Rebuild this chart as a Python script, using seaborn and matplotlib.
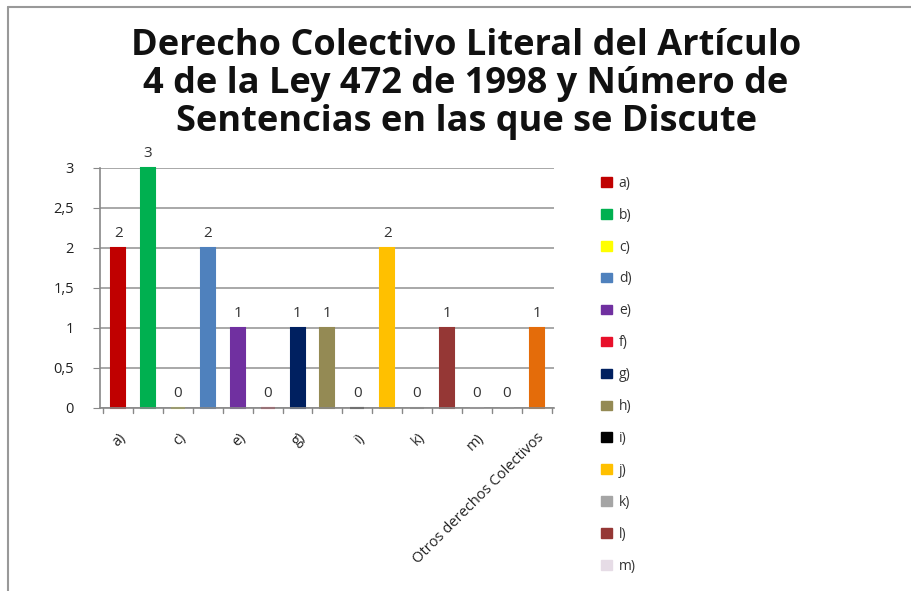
import matplotlib
matplotlib.use("Agg")
import matplotlib.pyplot as plt
import seaborn as sns
import pandas as pd
from matplotlib.lines import Line2D
from matplotlib.patches import Patch

categories = ["a)", "b)", "c)", "d)", "e)", "f)", "g)", "h)", "i)", "j)", "k)", "l)", "m)", "n)",
              "Otros derechos Colectivos"]
values = [2, 3, 0, 2, 1, 0, 1, 1, 0, 2, 0, 1, 0, 0, 1]
colors = ["#C00000", "#00B050", "#FFFF00", "#4F81BD", "#7030A0", "#E8102A", "#002060",
          "#948A54", "#000000", "#FFC000", "#A5A5A5", "#953735", "#E6DCE6", "#D9D9D9", "#E46C0A"]
legend_labels = categories[:13]
yticks = [0, 0.5, 1, 1.5, 2, 2.5, 3]
ytick_labels = ["0", "0,5", "1", "1,5", "2", "2,5", "3"]
title = "Derecho Colectivo Literal del Artículo\n4 de la Ley 472 de 1998 y Número de\nSentencias en las que se Discute"

sns.set_style("white")
plt.rcParams['font.family'] = ['Open Sans', 'DejaVu Sans']

fig = plt.figure(figsize=(9.12, 5.91), dpi=100)
ax = fig.add_axes([0.11, 0.31, 0.498, 0.406])

df = pd.DataFrame({"cat": categories, "val": values})
sns.barplot(data=df, x="cat", y="val", hue="cat", palette=colors, legend=False,
            width=0.47, ax=ax, saturation=1)
for p, c in zip(ax.patches, colors):
    p.set_edgecolor(c)
    p.set_linewidth(1.5)
    p.set_clip_on(False)

for cont in ax.containers:
    ax.bar_label(cont, fmt="%d", padding=5, fontsize=11, color="#333333")

ax.set_ylim(0, 3)
ax.set_xlim(-0.6, 14.6)
ax.set_yticks(yticks)
ax.set_yticklabels(ytick_labels, fontsize=10.5, color="#222222")
ax.yaxis.grid(True, color="#999999", linewidth=1.2)
ax.set_axisbelow(True)
ax.set_xlabel("")
ax.set_ylabel("")
for s in ["top", "right"]:
    ax.spines[s].set_visible(False)
ax.spines["left"].set_color("#888888")
ax.spines["bottom"].set_color("#888888")
ax.spines["left"].set_linewidth(1.2)
ax.spines["bottom"].set_linewidth(1.2)
ax.tick_params(axis="y", length=5, color="#888888", left=True, pad=14)

xt = list(range(0, 15, 2))
ax.set_xticks(xt)
ax.set_xticklabels([categories[i] for i in xt], rotation=45, ha="right",
                   rotation_mode="anchor", fontsize=10.5, color="#222222")
ax.tick_params(axis="x", length=0, pad=16)
for b in [i + 0.5 for i in range(-1, 15)]:
    ax.plot([b, b], [0, -0.06], color="#888888", lw=1, clip_on=False)

fig.suptitle(title, fontsize=26, fontweight="bold", y=0.952, x=0.511, va="top",
             linespacing=1.07, color="#111111")

handles = [Patch(facecolor=c, edgecolor=c) for c in colors[:13]]
leg = fig.legend(handles, legend_labels, loc="upper left", bbox_to_anchor=(0.645, 0.724),
                 frameon=False, fontsize=10, handlelength=0.8, handleheight=0.7,
                 labelspacing=1.22, handletextpad=0.5, labelcolor="#333333")

fig.add_artist(Line2D([0.009, 1.0], [0.989, 0.989], transform=fig.transFigure, color="#999999", lw=1.5))
fig.add_artist(Line2D([0.009, 0.009], [0.0, 0.989], transform=fig.transFigure, color="#999999", lw=1.5))

fig.savefig("out.png", dpi=100, facecolor="white")
